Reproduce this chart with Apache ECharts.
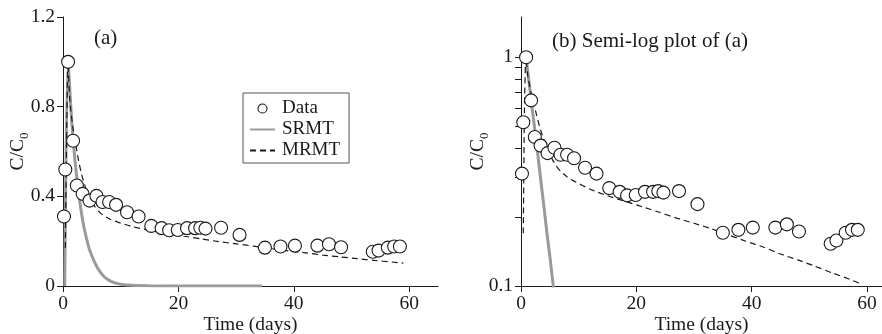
<!DOCTYPE html>
<html>
<head>
<meta charset="utf-8">
<script src="https://cdn.jsdelivr.net/npm/echarts@6/dist/echarts.min.js"></script>
<style>
  html, body { margin: 0; padding: 0; background: #fff; }
  #chart { width: 882px; height: 334px; }
</style>
</head>
<body>
<div id="chart"></div>
<script>
// Observed breakthrough data: time (days) and relative concentration C/C0
const obsDays = [0.17, 0.4, 0.88, 1.75, 2.4, 3.4, 4.6, 5.8, 6.85, 8.0, 9.2, 11.1, 13.1, 15.3, 17.1, 18.4, 19.9, 21.5, 22.9, 23.8, 24.7, 27.4, 30.6, 35.0, 37.7, 40.2, 44.1, 46.1, 48.2, 53.7, 54.7, 56.3, 57.4, 58.4];
const obsConc = [0.31, 0.52, 1.0, 0.648, 0.448, 0.411, 0.381, 0.402, 0.375, 0.375, 0.362, 0.329, 0.31, 0.268, 0.258, 0.249, 0.25, 0.258, 0.258, 0.26, 0.256, 0.26, 0.228, 0.171, 0.176, 0.18, 0.18, 0.186, 0.173, 0.153, 0.158, 0.171, 0.176, 0.176];

// Single-rate mass transfer model curve
const srmtDays = [0.3, 0.87, 1.5, 2.0, 2.5, 3.0, 3.5, 4.0, 4.5, 5.0, 5.5, 6.0, 7.0, 8.0, 9.0, 10.0, 12.0, 15.0, 20.0, 34.5];
const srmtConc = [0, 1.0, 0.74, 0.58, 0.46, 0.36, 0.28, 0.22, 0.17, 0.135, 0.105, 0.08, 0.045, 0.025, 0.014, 0.008, 0.003, 0.001, 0, 0];

// Multi-rate mass transfer model curve
const mrmtDays = [0.4, 0.6, 0.85, 1.2, 1.7, 2.0, 2.7, 3.2, 3.9, 4.7, 5.5, 6.5, 8.0, 9.5, 12, 15, 18, 21, 24, 27, 30, 33, 36, 39, 42, 45, 48, 51, 54, 57, 59];
const mrmtConc = [0.17, 0.6, 1.0, 0.82, 0.71, 0.66, 0.56, 0.5, 0.44, 0.39, 0.355, 0.325, 0.3, 0.285, 0.265, 0.248, 0.235, 0.222, 0.21, 0.198, 0.188, 0.178, 0.167, 0.157, 0.148, 0.138, 0.13, 0.122, 0.114, 0.107, 0.102];

// Axis tick positions
const timeTicks = [0, 20, 40, 60];
const linTicks = [0, 0.4, 0.8, 1.2];
const logLabels = [0.1, 1];
const logTicks = [0.1, 0.2, 0.3, 0.4, 0.5, 0.6, 0.7, 0.8, 0.9, 1];

const FONT = 'Liberation Serif';
const INK = '#1a1a1a';
const FS = 19.5;

const pairs = (xs, ys, positiveOnly) =>
  xs.map((x, i) => [x, positiveOnly && ys[i] <= 0 ? null : ys[i]])
    .filter(p => p[1] !== null);

const chart = echarts.init(document.getElementById('chart'), null, { renderer: 'canvas' });

const axisLineStyle = { lineStyle: { color: INK, width: 1 } };
const tickStyle = { show: true, inside: false, length: 6, lineStyle: { color: INK, width: 1 } };
const labelStyle = { color: INK, fontFamily: FONT, fontSize: FS };

function timeAxis(gridIndex, max) {
  return {
    type: 'value', gridIndex, min: 0, max,
    name: 'Time (days)', nameLocation: 'middle', nameGap: 29, nameMoveOverlap: false,
    nameTextStyle: { color: INK, fontFamily: FONT, fontSize: FS },
    axisLine: axisLineStyle,
    axisTick: Object.assign({ customValues: timeTicks }, tickStyle),
    axisLabel: Object.assign({ customValues: timeTicks, margin: 8 }, labelStyle),
    splitLine: { show: false }
  };
}

function yName(gap) {
  return {
    name: 'C/C{s|0}', nameLocation: 'middle', nameGap: gap, nameMoveOverlap: false,
    nameTextStyle: {
      color: INK, fontFamily: FONT, fontSize: FS, lineHeight: 26,
      rich: { s: { color: INK, fontFamily: FONT, fontSize: 13, lineHeight: 13, verticalAlign: 'bottom' } }
    }
  };
}

const scatterStyle = { color: '#ffffff', borderColor: INK, borderWidth: 1.1, opacity: 1 };
const srmtLine = { color: '#9a9a9a', width: 3 };
const mrmtLine = { color: INK, width: 1.2, type: [6, 4] };
// legend line icons: show the stroke only, no centre marker
const hiddenMarker = { opacity: 0 };

chart.setOption({
  animation: false,
  backgroundColor: '#fff',
  textStyle: { fontFamily: FONT },
  title: [
    { text: '(a)', left: 94, top: 28, textStyle: { color: INK, fontFamily: FONT, fontSize: 21, fontWeight: 'normal' }, padding: 0 },
    { text: '(b) Semi-log plot of (a)', left: 552, top: 31, textStyle: { color: INK, fontFamily: FONT, fontSize: 21, fontWeight: 'normal' }, padding: 0 }
  ],
  legend: {
    orient: 'vertical', left: 243, top: 93,
    padding: [6, 9, 3, 6], itemGap: 2,
    itemWidth: 25, itemHeight: 9,
    borderColor: '#555', borderWidth: 1,
    textStyle: { color: INK, fontFamily: FONT, fontSize: 19, padding: [0, 0, 0, 2] },
    data: [
      { name: 'Data', icon: 'circle', itemStyle: scatterStyle },
      { name: 'SRMT', itemStyle: hiddenMarker },
      { name: 'MRMT', itemStyle: hiddenMarker }
    ]
  },
  grid: [
    { left: 63, top: 17, width: 375, height: 269, containLabel: false, outerBoundsMode: 'none' },
    { left: 521, top: 17, width: 361, height: 269, containLabel: false, outerBoundsMode: 'none' }
  ],
  xAxis: [timeAxis(0, 65), timeAxis(1, 62.6)],
  yAxis: [
    Object.assign({
      type: 'value', gridIndex: 0, min: 0, max: 1.2,
      axisLine: axisLineStyle,
      axisTick: Object.assign({ customValues: linTicks }, tickStyle),
      axisLabel: Object.assign({ customValues: linTicks, margin: 8 }, labelStyle),
      splitLine: { show: false }
    }, yName(32)),
    Object.assign({
      type: 'log', logBase: 10, gridIndex: 1, min: 0.1, max: 1.5,
      axisLine: axisLineStyle,
      axisTick: Object.assign({ customValues: logTicks }, tickStyle),
      axisLabel: Object.assign({ customValues: logLabels, margin: 8 }, labelStyle),
      splitLine: { show: false },
      minorTick: { show: false }
    }, yName(30))
  ],
  series: [
    { name: 'SRMT', type: 'line', xAxisIndex: 0, yAxisIndex: 0, data: pairs(srmtDays, srmtConc),
      symbol: 'none', smooth: 0.3, lineStyle: srmtLine, itemStyle: { color: srmtLine.color }, z: 2 },
    { name: 'MRMT', type: 'line', xAxisIndex: 0, yAxisIndex: 0, data: pairs(mrmtDays, mrmtConc),
      symbol: 'none', smooth: 0.2, lineStyle: mrmtLine, itemStyle: { color: INK }, z: 3 },
    { name: 'Data', type: 'scatter', xAxisIndex: 0, yAxisIndex: 0, data: pairs(obsDays, obsConc),
      symbol: 'circle', symbolSize: 13, itemStyle: scatterStyle, z: 4 },

    { name: 'SRMT', type: 'line', xAxisIndex: 1, yAxisIndex: 1, data: pairs(srmtDays, srmtConc, true),
      symbol: 'none', lineStyle: srmtLine, itemStyle: { color: srmtLine.color }, clip: true, z: 2 },
    { name: 'MRMT', type: 'line', xAxisIndex: 1, yAxisIndex: 1, data: pairs(mrmtDays, mrmtConc, true),
      symbol: 'none', smooth: 0.2, lineStyle: mrmtLine, itemStyle: { color: INK }, clip: true, z: 3 },
    { name: 'Data', type: 'scatter', xAxisIndex: 1, yAxisIndex: 1, data: pairs(obsDays, obsConc, true),
      symbol: 'circle', symbolSize: 13, itemStyle: scatterStyle, z: 4 }
  ]
});
</script>
</body>
</html>
